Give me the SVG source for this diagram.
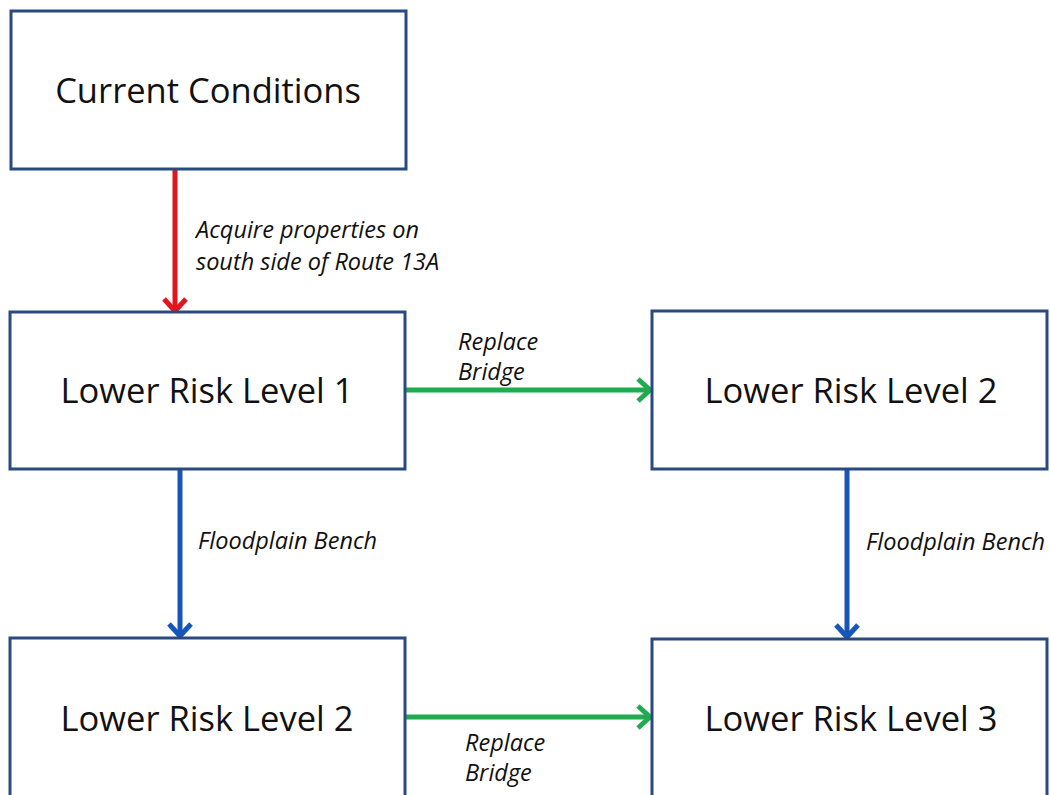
<svg xmlns="http://www.w3.org/2000/svg" width="1050" height="795" viewBox="0 0 1050 795">
<style>
.box{fill:#fff;stroke:#2a4a7f;stroke-width:3}
.t{font-family:"Open Sans","Noto Sans",sans-serif;font-size:34.5px;fill:#111;text-anchor:middle}
.l{font-family:"Open Sans","Noto Sans",sans-serif;font-size:23.5px;font-style:italic;fill:#111}
.red{stroke:#e0161d;stroke-width:5;fill:none}
.grn{stroke:#1fab4e;stroke-width:5;fill:none}
.blu{stroke:#1756b9;stroke-width:5;fill:none}
</style>
<rect width="1050" height="795" fill="#fff"/>
<g id="connectors">
<line class="red" x1="175" y1="169" x2="175" y2="310"/>
<polyline class="red" points="164,299 175,311 186,299"/>
<line class="grn" x1="405" y1="390" x2="649" y2="390"/>
<polyline class="grn" points="638,379 650,390 638,401"/>
<line class="blu" x1="180" y1="469" x2="180" y2="635"/>
<polyline class="blu" points="169,624 180,636 191,624"/>
<line class="blu" x1="847" y1="469" x2="847" y2="636"/>
<polyline class="blu" points="836,625 847,637 858,625"/>
<line class="grn" x1="405" y1="717" x2="649" y2="717"/>
<polyline class="grn" points="638,706 650,717 638,728"/>
<text class="l" x="196" y="238">Acquire properties on</text>
<text class="l" x="196" y="270">south side of Route 13A</text>
<text class="l" x="458" y="350">Replace</text>
<text class="l" x="458" y="380">Bridge</text>
<text class="l" x="198" y="549">Floodplain Bench</text>
<text class="l" x="866" y="550">Floodplain Bench</text>
<text class="l" x="465" y="751">Replace</text>
<text class="l" x="465" y="781">Bridge</text>
</g>
<g id="n1"><rect class="box" x="11" y="11" width="395" height="158"/><text class="t" x="208" y="103">Current Conditions</text></g>
<g id="n2"><rect class="box" x="10" y="312" width="395" height="157"/><text class="t" x="207" y="403">Lower Risk Level 1</text></g>
<g id="n3"><rect class="box" x="652" y="311" width="395" height="158"/><text class="t" x="851" y="403">Lower Risk Level 2</text></g>
<g id="n4"><rect class="box" x="10" y="638" width="395" height="170"/><text class="t" x="207" y="731">Lower Risk Level 2</text></g>
<g id="n5"><rect class="box" x="652" y="639" width="395" height="170"/><text class="t" x="851" y="731">Lower Risk Level 3</text></g>
</svg>
